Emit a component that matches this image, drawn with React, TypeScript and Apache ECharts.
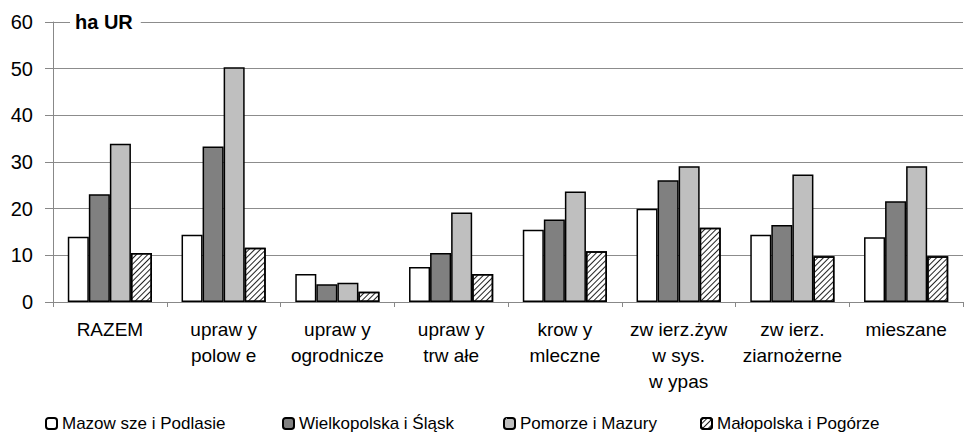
import React, { useEffect, useRef } from "react";
import * as echarts from "echarts";

const categories = [
  "RAZEM",
  "upraw y\npolow e",
  "upraw y\nogrodnicze",
  "upraw y\ntrw ałe",
  "krow y\nmleczne",
  "zw ierz.żyw\nw sys.\nw ypas",
  "zw ierz.\nziarnożerne",
  "mieszane",
];
const seriesNames = [
  "Mazow sze i Podlasie",
  "Wielkopolska i Śląsk",
  "Pomorze i Mazury",
  "Małopolska i Pogórze",
];
const mazowsze = [14.0, 14.4, 6.0, 7.5, 15.5, 20.0, 14.4, 13.9];
const wielkopolska = [23.1, 33.3, 3.8, 10.5, 17.7, 26.1, 16.5, 21.6];
const pomorze = [33.9, 50.3, 4.1, 19.2, 23.7, 29.1, 27.3, 29.1];
const malopolska = [10.5, 11.6, 2.2, 6.0, 10.9, 15.9, 9.8, 9.8];
const yTicks = [0, 10, 20, 30, 40, 50, 60];
const legendLefts = [45, 282, 503, 700];

const FONT = "'Liberation Sans', Arial, sans-serif";

export default function App() {
  const ref = useRef<HTMLDivElement>(null);
  useEffect(() => {
    if (!ref.current) return;
    const chart = echarts.init(ref.current, null, { renderer: "svg" });
    const border = { borderColor: "#000", borderWidth: 1.5 };
    chart.setOption({
      animation: false,
      backgroundColor: "#fff",
      textStyle: { fontFamily: FONT },
      grid: { left: 53, right: 1, top: 22, bottom: 132, containLabel: false },
      xAxis: {
        type: "category",
        data: categories,
        axisLine: { lineStyle: { color: "#888", width: 1 } },
        axisTick: { show: true, length: 5, lineStyle: { color: "#888" } },
        axisLabel: {
          color: "#000",
          fontSize: 19,
          lineHeight: 26,
          margin: 14,
          interval: 0,
          fontFamily: FONT,
        },
      },
      yAxis: {
        type: "value",
        min: yTicks[0],
        max: yTicks[yTicks.length - 1],
        interval: 10,
        axisLine: { show: true, lineStyle: { color: "#888", width: 1 } },
        axisTick: { show: true, length: 8, lineStyle: { color: "#888" } },
        axisLabel: { color: "#000", fontSize: 20, margin: 20, fontFamily: FONT },
        splitLine: { lineStyle: { color: "#8c8c8c", width: 1 } },
      },
      legend: seriesNames.map((n, i) => ({
        top: 415,
        left: legendLefts[i],
        padding: 0,
        itemWidth: 11,
        itemHeight: 11,
        textStyle: { color: "#000", fontSize: 17, fontFamily: FONT },
        data: [n],
      })),
      graphic: [
        {
          type: "text",
          left: 70,
          top: 12,
          z: 100,
          style: {
            text: "ha UR",
            fontSize: 20,
            fontWeight: "bold",
            fontFamily: FONT,
            fill: "#000",
            backgroundColor: "#fff",
            padding: [0, 8, 0, 5],
          },
        },
      ],
      series: [
        {
          name: seriesNames[0],
          type: "bar",
          data: mazowsze,
          barGap: "0%",
          barCategoryGap: "26%",
          itemStyle: { color: "#fff", ...border },
        },
        {
          name: seriesNames[1],
          type: "bar",
          data: wielkopolska,
          itemStyle: { color: "#808080", ...border },
        },
        {
          name: seriesNames[2],
          type: "bar",
          data: pomorze,
          itemStyle: { color: "#bfbfbf", ...border },
        },
        {
          name: seriesNames[3],
          type: "bar",
          data: malopolska,
          itemStyle: {
            color: "#fff",
            ...border,
            decal: {
              symbol: "rect",
              color: "#222",
              backgroundColor: "#fff",
              dashArrayX: [1, 0],
              dashArrayY: [1, 2.5],
              rotation: -Math.PI / 4,
              symbolSize: 1,
            },
          },
        },
      ],
    });
    return () => chart.dispose();
  }, []);
  return (
    <div
      ref={ref}
      style={{ position: "fixed", top: 0, left: 0, width: 964, height: 434 }}
    />
  );
}
